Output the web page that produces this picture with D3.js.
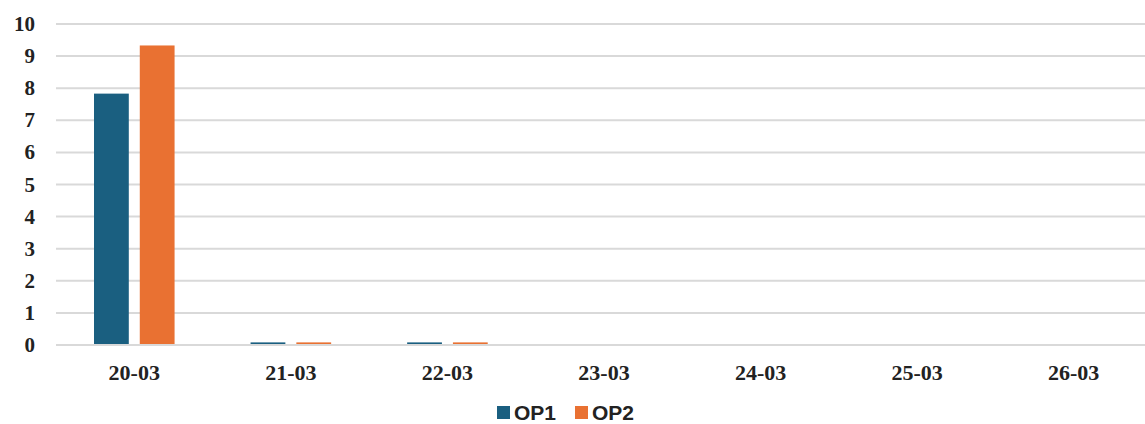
<!DOCTYPE html>
<html>
<head>
<meta charset="utf-8">
<script src="https://cdn.jsdelivr.net/npm/d3@7"></script>
<style>
  body { margin: 0; background: #fff; }
  .ytick text, .xtick text { font-family: "Liberation Serif", "Times New Roman", serif; font-weight: bold; fill: #222; }
  .legend text { font-family: "Liberation Sans", Arial, sans-serif; font-weight: bold; fill: #222; }
</style>
</head>
<body>
<script>
// 数据
var categories = ["20-03", "21-03", "22-03", "23-03", "24-03", "25-03", "26-03"];
var op1 = [7.8, 0.05, 0.05, 0, 0, 0, 0];
var op2 = [9.3, 0.05, 0.05, 0, 0, 0, 0];
var seriesNames = ["OP1", "OP2"];
var yTicks = [0, 1, 2, 3, 4, 5, 6, 7, 8, 9, 10];

var colors = ["#1a5f80", "#e97132"];

const width = 1145, height = 424;
const margin = { left: 56, right: -7, top: 24, bottom: 79 };
const innerWidth = width - margin.left - margin.right;
const innerHeight = height - margin.top - margin.bottom;

var svg = d3.select("body").append("svg")
  .attr("width", width).attr("height", height);

const g = svg.append("g")
  .attr("transform", `translate(${margin.left},${margin.top})`);

var yScale = d3.scaleLinear().domain([0, 10]).range([innerHeight, 0]);
var xScale = d3.scaleBand().domain(categories).range([0, innerWidth]).paddingInner(0).paddingOuter(0);
var x1 = d3.scaleBand().domain(seriesNames).range([38, xScale.bandwidth() - 38]).paddingInner(0.24);

// 网格线
g.append("g").selectAll("line").data(yTicks).join("line")
  .attr("x1", 0).attr("x2", innerWidth)
  .attr("y1", d => yScale(d)).attr("y2", d => yScale(d))
  .attr("stroke", "#d9d9d9").attr("stroke-width", 2);

// y轴标签
g.append("g").attr("class", "ytick").selectAll("text").data(yTicks).join("text")
  .attr("x", -21).attr("y", d => yScale(d) + 7)
  .attr("text-anchor", "end").attr("font-size", 21)
  .text(d => d);

// x轴标签
g.append("g").attr("class", "xtick").selectAll("text").data(categories).join("text")
  .attr("x", d => xScale(d) + xScale.bandwidth() / 2)
  .attr("y", innerHeight + 35)
  .attr("text-anchor", "middle").attr("font-size", 22)
  .text(d => d);

// 柱子
var rows = categories.map((c, i) => ({ cat: c, vals: [op1[i], op2[i]] }));
var grp = g.selectAll(".grp").data(rows).join("g")
  .attr("class", "grp")
  .attr("transform", d => `translate(${xScale(d.cat)},0)`);
grp.selectAll("rect").data(d => d.vals.map((v, j) => ({ name: seriesNames[j], v: v, j: j })))
  .join("rect")
  .attr("x", d => x1(d.name))
  .attr("width", x1.bandwidth())
  .attr("y", d => yScale(d.v) - (d.v > 0 ? 1 : 0))
  .attr("height", d => d.v > 0 ? yScale(0) - yScale(d.v) : 0)
  .attr("fill", d => colors[d.j]);

// 图例
var legend = svg.append("g").attr("class", "legend").attr("transform", "translate(497,406)");
var items = [{ name: "OP1", x: 0 }, { name: "OP2", x: 78 }];
items.forEach((it, j) => {
  legend.append("rect").attr("x", it.x).attr("y", 0).attr("width", 13).attr("height", 13).attr("fill", colors[j]);
  legend.append("text").attr("x", it.x + 17).attr("y", 13.5).attr("font-size", 21).text(it.name);
});
</script>
</body>
</html>
